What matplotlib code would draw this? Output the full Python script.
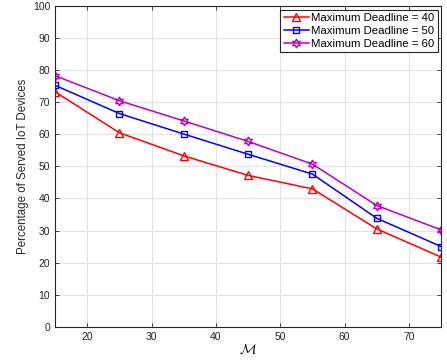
import matplotlib
matplotlib.use("Agg")
import matplotlib.pyplot as plt

plt.rcParams['font.family'] = ['Liberation Sans', 'DejaVu Sans']
plt.rcParams['mathtext.fontset'] = 'cm'

M = [15, 25, 35, 45, 55, 65, 75]
d40 = [73.3, 60.5, 53.3, 47.2, 43.0, 30.5, 21.7]
d50 = [75.3, 66.5, 60.1, 53.8, 47.6, 33.8, 25.0]
d60 = [78.3, 70.5, 64.2, 57.8, 50.7, 37.8, 30.2]
labels = ['Maximum Deadline = 40', 'Maximum Deadline = 50', 'Maximum Deadline = 60']
xticks = [20, 30, 40, 50, 60, 70]
yticks = [0, 10, 20, 30, 40, 50, 60, 70, 80, 90, 100]

fig = plt.figure(figsize=(4.47, 3.6), dpi=100)
ax = fig.add_axes([0.123, 0.0925, 0.864, 0.8905])

ax.plot(M, d40, color='#ff0000', marker='^', markersize=5.5, markerfacecolor='none', lw=1.1, label=labels[0])
ax.plot(M, d50, color='#0000ff', marker='s', markersize=4.5, markerfacecolor='none', lw=1.1, label=labels[1])
ax.plot(M, d60, color='#bf00bf', marker=(6, 1, 0), markersize=6.5, markerfacecolor='none', lw=1.1, label=labels[2])

ax.set_xlim(15, 75)
ax.set_ylim(0, 100)
ax.set_xticks(xticks)
ax.set_yticks(yticks)
ax.grid(True, color='#e3e3e3', lw=0.8)
ax.set_axisbelow(True)
ax.tick_params(direction='in', top=True, right=True, labelsize=7.5, colors='#262626', length=3, width=0.6)
for s in ax.spines.values():
    s.set_color('#262626')
    s.set_linewidth(0.8)

ax.set_xlabel(r'$\mathcal{M}$', fontsize=10, labelpad=1)
ax.set_ylabel('Percentage of Served IoT Devices', fontsize=8.3, color='#262626', labelpad=3)

leg = ax.legend(loc='upper right', fontsize=8.2, fancybox=False, framealpha=1, edgecolor='#262626',
                borderaxespad=0.3, handlelength=2.2, handletextpad=0.2, labelspacing=0.25, borderpad=0.3)
leg.get_frame().set_linewidth(0.8)

fig.savefig('out.png', dpi=100)
